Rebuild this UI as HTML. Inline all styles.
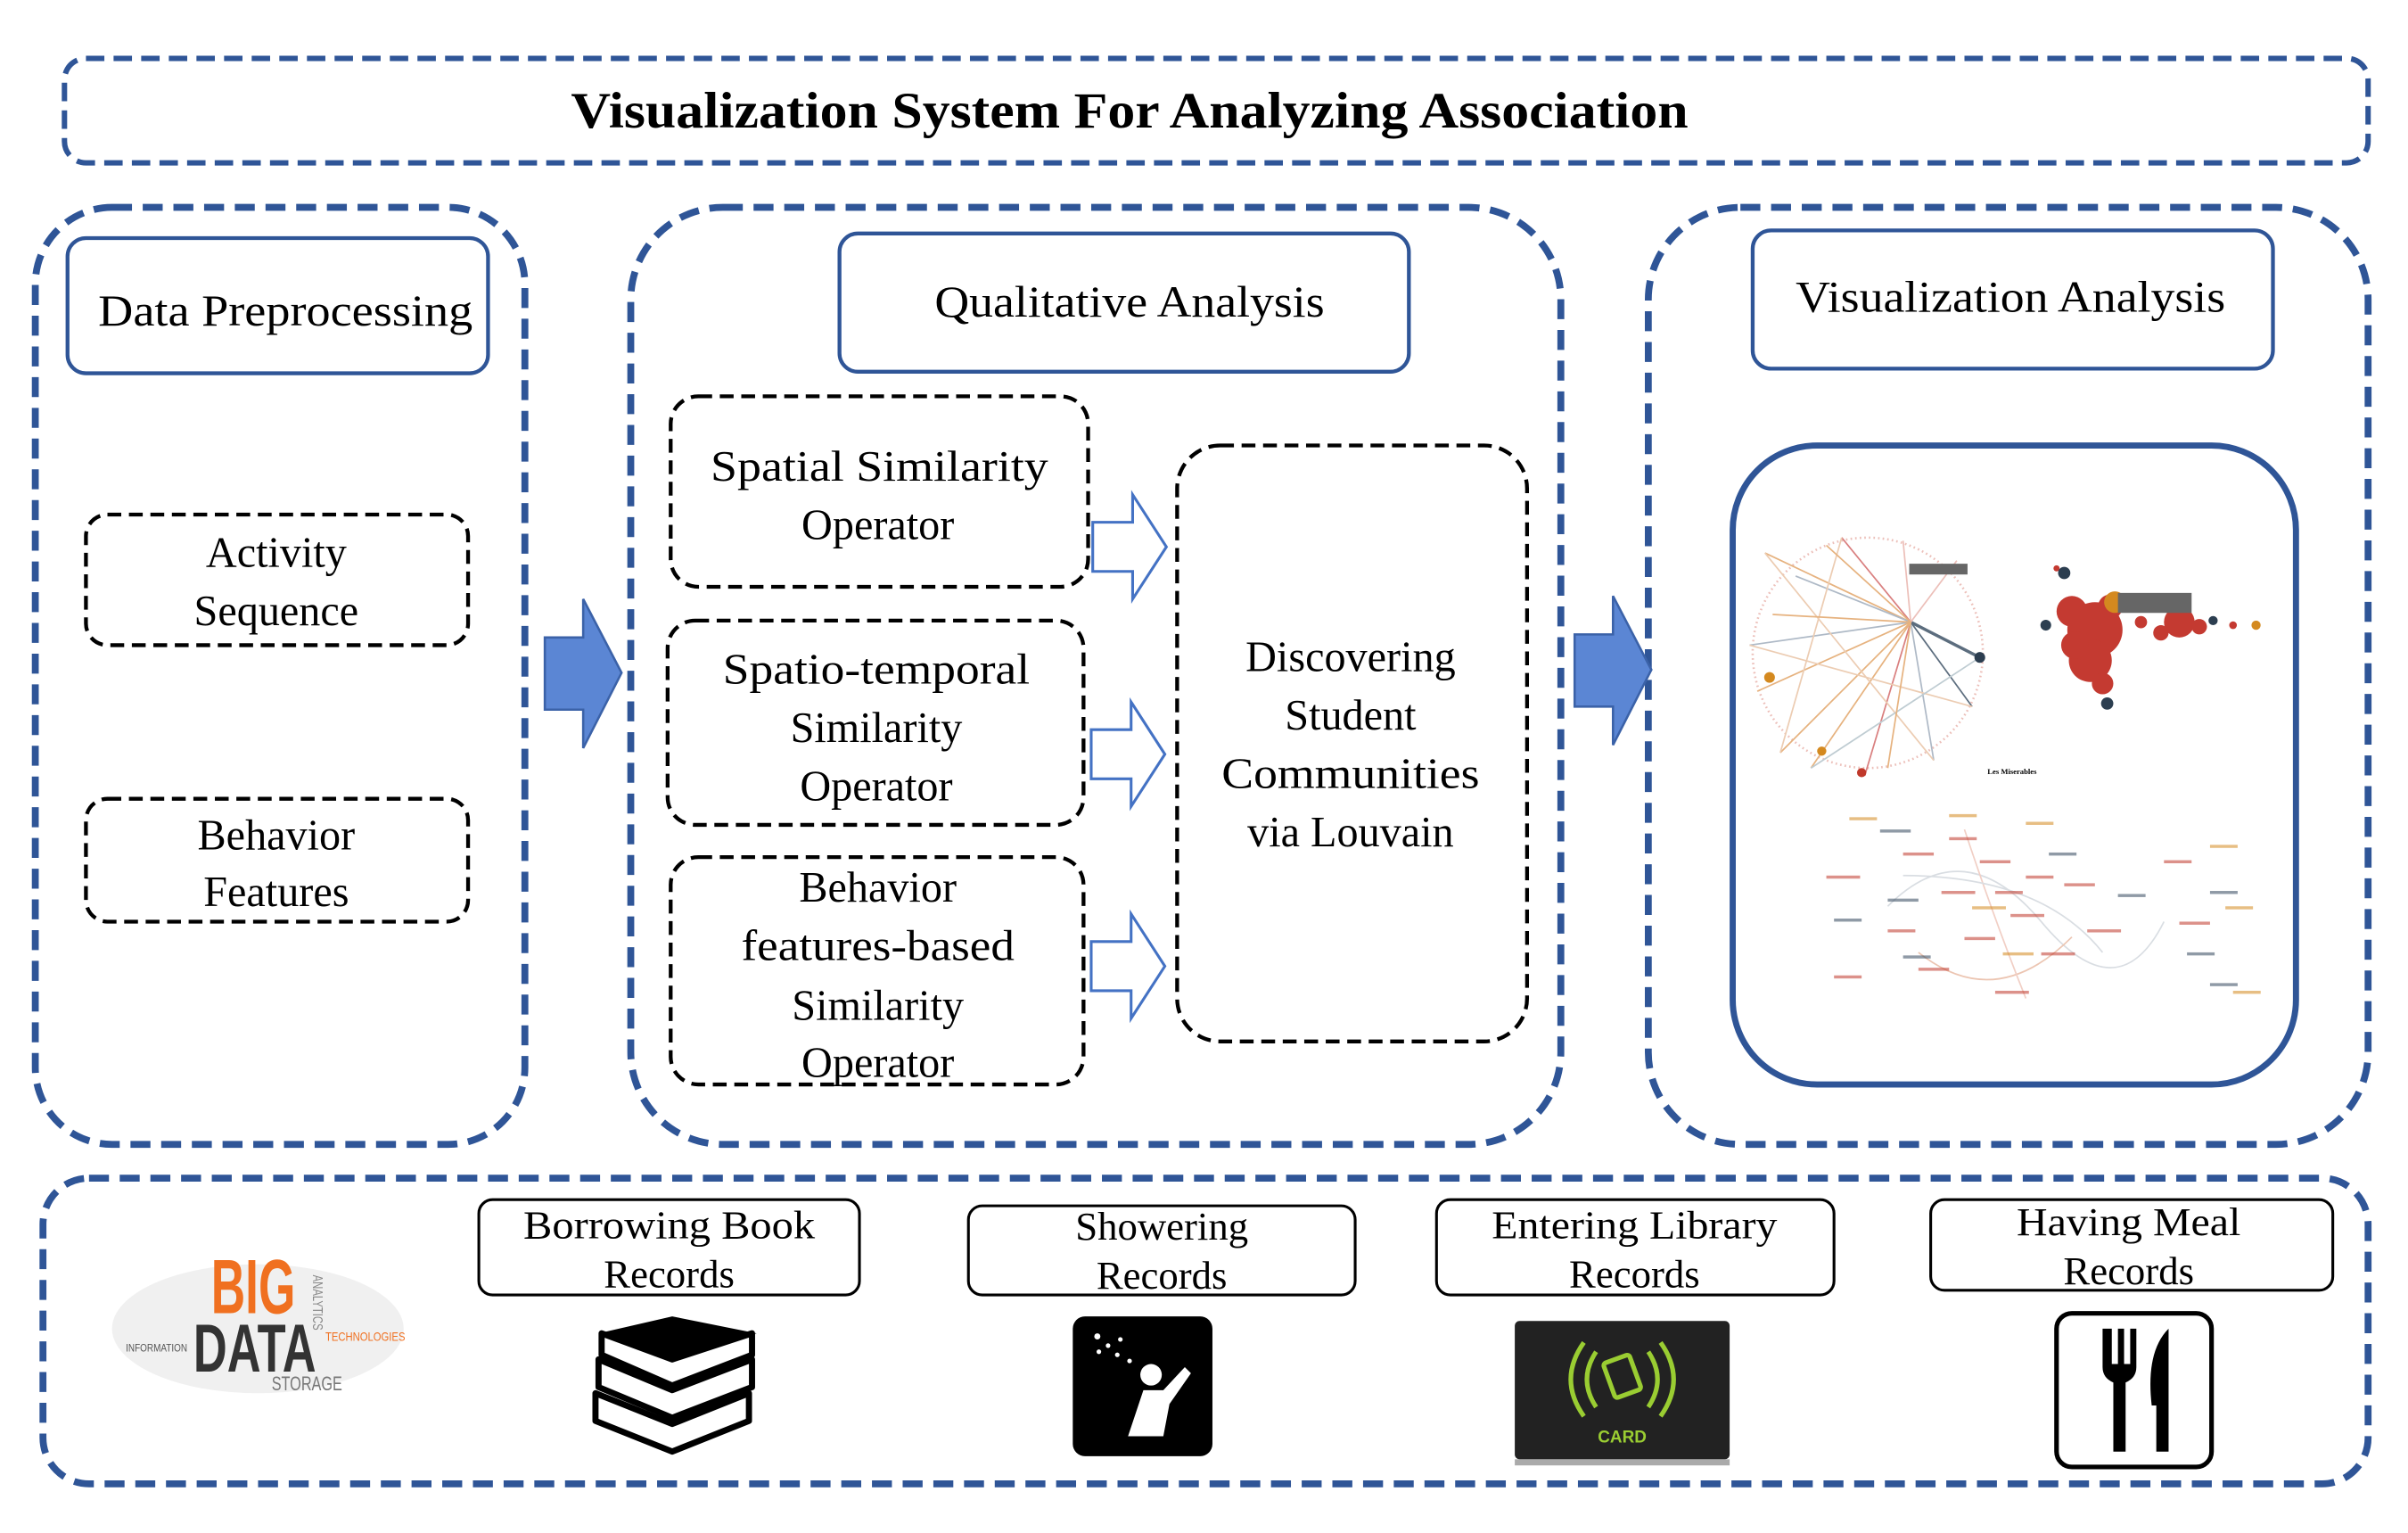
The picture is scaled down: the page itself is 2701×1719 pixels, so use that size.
<!DOCTYPE html>
<html><head><meta charset="utf-8"><style>
html,body{margin:0;padding:0;background:#fff}
svg{display:block}
text{font-family:"Liberation Serif",serif}
</style></head><body>
<svg width="2701" height="1719" viewBox="0 0 1569 998" preserveAspectRatio="none" xmlns="http://www.w3.org/2000/svg">
<rect width="1569" height="998" fill="#fff"/>
<g fill="none" stroke="#2f5597">
<rect x="42" y="38" width="1501" height="68" rx="14" stroke-width="3.5" stroke-dasharray="12,6"/>
<rect x="23" y="135" width="319" height="610" rx="50" stroke-width="4.5" stroke-dasharray="13,7"/>
<rect x="411" y="135" width="606" height="610" rx="60" stroke-width="4.5" stroke-dasharray="13,7"/>
<rect x="1074" y="135" width="469" height="610" rx="60" stroke-width="4.5" stroke-dasharray="13,7"/>
<rect x="28" y="767" width="1515" height="199" rx="30" stroke-width="4.5" stroke-dasharray="13,7"/>
<rect x="44" y="155" width="274" height="88" rx="12" stroke-width="2.5"/>
<rect x="547" y="152" width="371" height="90" rx="12" stroke-width="2.5"/>
<rect x="1142" y="150" width="339" height="90" rx="12" stroke-width="2.5"/>
<rect x="1129" y="290" width="367" height="416" rx="55" stroke-width="4"/>
</g>
<text x="736" y="83" font-size="33" font-weight="bold" text-anchor="middle" textLength="728" lengthAdjust="spacingAndGlyphs">Visualization System For Analyzing Association</text>
<g font-size="29" text-anchor="middle">
<text x="186" y="212" textLength="244" lengthAdjust="spacingAndGlyphs">Data Preprocessing</text>
<text x="736" y="206" textLength="254" lengthAdjust="spacingAndGlyphs">Qualitative Analysis</text>
<text x="1310" y="203" textLength="280" lengthAdjust="spacingAndGlyphs">Visualization Analysis</text>
</g>
<g fill="none" stroke="#000" stroke-width="2.5" stroke-dasharray="9,5">
<rect x="56" y="335" width="249" height="85" rx="14"/>
<rect x="56" y="520" width="249" height="80" rx="14"/>
<rect x="437" y="258" width="272" height="124" rx="18"/>
<rect x="435" y="404" width="271" height="133" rx="18"/>
<rect x="437" y="558" width="269" height="148" rx="18"/>
<rect x="767" y="290" width="228" height="388" rx="28"/>
</g>
<g font-size="28" text-anchor="middle">
<text x="180" y="369">Activity</text><text x="180" y="407">Sequence</text>
<text x="180" y="553">Behavior</text><text x="180" y="590">Features</text>
<text x="573" y="313" textLength="220" lengthAdjust="spacingAndGlyphs">Spatial  Similarity</text><text x="572" y="351">Operator</text>
<text x="571" y="445" textLength="200" lengthAdjust="spacingAndGlyphs">Spatio-temporal</text><text x="571" y="483">Similarity</text><text x="571" y="521">Operator</text>
<text x="572" y="587">Behavior</text><text x="572" y="625" textLength="178" lengthAdjust="spacingAndGlyphs">features-based</text><text x="572" y="664">Similarity</text><text x="572" y="701">Operator</text>
<text x="880" y="437">Discovering</text><text x="880" y="475">Student</text><text x="880" y="513" textLength="168" lengthAdjust="spacingAndGlyphs">Communities</text><text x="880" y="551">via Louvain</text>
</g>
<g fill="#5b86d4" stroke="#3b62a8" stroke-width="1.5">
<polygon points="355,415 380,415 380,390 405,438 380,487 380,462 355,462"/>
<polygon points="1026,413 1051,413 1051,388 1076,436 1051,485 1051,460 1026,460"/>
</g>
<g fill="#fff" stroke="#4472c4" stroke-width="1.8">
<polygon points="712,340 738,340 738,322 760,356 738,390 738,372 712,372"/>
<polygon points="711,475 737,475 737,457 759,491 737,525 737,507 711,507"/>
<polygon points="711,613 737,613 737,595 759,629 737,663 737,645 711,645"/>
</g>
<g stroke-width="1" opacity="0.8">
<circle cx="1217" cy="425" r="75" fill="none" stroke="#e8b0a8" stroke-width="1.5" stroke-dasharray="1,2"/>
<line x1="1245" y1="405" x2="1150" y2="360" stroke="#e0a060"/><line x1="1245" y1="405" x2="1140" y2="420" stroke="#9aa8b8"/>
<line x1="1245" y1="405" x2="1160" y2="490" stroke="#e0a060"/><line x1="1245" y1="405" x2="1200" y2="350" stroke="#d06060"/>
<line x1="1245" y1="405" x2="1290" y2="428" stroke="#34495e" stroke-width="2"/><line x1="1245" y1="405" x2="1260" y2="495" stroke="#9aa8b8"/>
<line x1="1245" y1="405" x2="1215" y2="505" stroke="#d06060"/><line x1="1245" y1="405" x2="1180" y2="500" stroke="#e0a060"/>
<line x1="1245" y1="405" x2="1145" y2="450" stroke="#e0a060"/><line x1="1245" y1="405" x2="1170" y2="375" stroke="#9aa8b8"/>
<line x1="1245" y1="405" x2="1285" y2="460" stroke="#34495e"/><line x1="1245" y1="405" x2="1240" y2="352" stroke="#e8b0a8"/>
<line x1="1150" y1="360" x2="1260" y2="495" stroke="#e8c0a0"/><line x1="1140" y1="420" x2="1285" y2="460" stroke="#e8c0a0"/>
<line x1="1160" y1="490" x2="1200" y2="350" stroke="#e8c0a0"/><line x1="1180" y1="500" x2="1290" y2="428" stroke="#b0c0c8"/>
<line x1="1245" y1="405" x2="1155" y2="400" stroke="#e0a060"/><line x1="1245" y1="405" x2="1230" y2="500" stroke="#e0a060"/>
<line x1="1245" y1="405" x2="1275" y2="365" stroke="#e8b0a8"/><line x1="1245" y1="405" x2="1190" y2="355" stroke="#e0a060"/>
</g>
<circle cx="1290" cy="428" r="3.5" fill="#2c3e50"/><circle cx="1153" cy="441" r="3.5" fill="#d4891f"/>
<circle cx="1187" cy="489" r="3" fill="#d4891f"/><circle cx="1213" cy="503" r="3" fill="#c0392b"/>
<rect x="1244" y="367" width="38" height="7" fill="#666"/>
<text x="1295" y="504" font-size="5" font-weight="bold">Les Miserables</text>
<g fill="#c43a31">
<circle cx="1350" cy="398" r="10"/><circle cx="1365" cy="410" r="18"/><circle cx="1362" cy="430" r="14"/>
<circle cx="1352" cy="420" r="9"/><circle cx="1375" cy="395" r="8"/><circle cx="1370" cy="445" r="7"/>
<circle cx="1420" cy="405" r="10"/><circle cx="1408" cy="412" r="5"/><circle cx="1433" cy="408" r="5"/>
<circle cx="1395" cy="405" r="4"/><circle cx="1455" cy="407" r="2.5"/><circle cx="1340" cy="370" r="2"/>
</g>
<circle cx="1378" cy="392" r="7" fill="#d4891f"/><circle cx="1470" cy="407" r="3" fill="#d4891f"/>
<circle cx="1345" cy="373" r="4" fill="#2c3e50"/><circle cx="1333" cy="407" r="3.5" fill="#2c3e50"/>
<circle cx="1373" cy="458" r="4" fill="#2c3e50"/><circle cx="1442" cy="404" r="3" fill="#2c3e50"/>
<rect x="1380" y="386" width="48" height="13" fill="#666"/>
<g stroke-width="1" fill="none" opacity="0.6">
<path d="M1230,590 Q1280,540 1330,600 T1410,600" stroke="#c0c8d0"/>
<path d="M1250,620 Q1300,660 1350,610" stroke="#e0a080"/>
<path d="M1280,540 Q1300,600 1320,650" stroke="#e8b0a0"/>
<path d="M1240,570 Q1330,570 1370,620" stroke="#c0c8d0"/>
</g>
<g opacity="0.55">
<g fill="#c0392b">
<rect x="1190" y="570" width="22" height="2"/><rect x="1240" y="555" width="20" height="2"/><rect x="1265" y="580" width="22" height="2"/>
<rect x="1290" y="560" width="20" height="2"/><rect x="1310" y="595" width="22" height="2"/><rect x="1280" y="610" width="20" height="2"/>
<rect x="1330" y="620" width="22" height="2"/><rect x="1250" y="630" width="20" height="2"/><rect x="1300" y="645" width="22" height="2"/>
<rect x="1345" y="575" width="20" height="2"/><rect x="1360" y="605" width="22" height="2"/><rect x="1230" y="605" width="18" height="2"/>
<rect x="1420" y="600" width="20" height="2"/><rect x="1410" y="560" width="18" height="2"/><rect x="1195" y="635" width="18" height="2"/>
<rect x="1270" y="545" width="18" height="2"/><rect x="1300" y="580" width="18" height="2"/><rect x="1320" y="570" width="18" height="2"/>
</g>
<g fill="#d4891f">
<rect x="1205" y="532" width="18" height="2"/><rect x="1270" y="530" width="18" height="2"/><rect x="1320" y="535" width="18" height="2"/>
<rect x="1285" y="590" width="22" height="2"/><rect x="1450" y="590" width="18" height="2"/><rect x="1440" y="550" width="18" height="2"/>
<rect x="1305" y="620" width="20" height="2"/><rect x="1455" y="645" width="18" height="2"/>
</g>
<g fill="#34495e">
<rect x="1225" y="540" width="20" height="2"/><rect x="1230" y="585" width="20" height="2"/><rect x="1195" y="598" width="18" height="2"/>
<rect x="1335" y="555" width="18" height="2"/><rect x="1380" y="582" width="18" height="2"/><rect x="1440" y="580" width="18" height="2"/>
<rect x="1425" y="620" width="18" height="2"/><rect x="1440" y="640" width="18" height="2"/><rect x="1240" y="622" width="18" height="2"/>
</g>
</g>
<g fill="none" stroke="#000" stroke-width="1.8">
<rect x="312" y="781" width="248" height="62" rx="9"/>
<rect x="631" y="785" width="252" height="58" rx="9"/>
<rect x="936" y="781" width="259" height="62" rx="9"/>
<rect x="1258" y="781" width="262" height="59" rx="9"/>
</g>
<g font-size="26" text-anchor="middle">
<text x="436" y="806" textLength="190" lengthAdjust="spacingAndGlyphs">Borrowing Book</text><text x="436" y="838">Records</text>
<text x="757" y="807">Showering</text><text x="757" y="839">Records</text>
<text x="1065" y="806" textLength="186" lengthAdjust="spacingAndGlyphs">Entering Library</text><text x="1065" y="838">Records</text>
<text x="1387" y="804" textLength="146" lengthAdjust="spacingAndGlyphs">Having Meal</text><text x="1387" y="836">Records</text>
</g>
<ellipse cx="168" cy="865" rx="95" ry="42" fill="#ececec" opacity="0.8"/>
<text x="165" y="855" font-size="50" font-weight="bold" style="fill:#f07020;font-family:'Liberation Sans',sans-serif" text-anchor="middle" textLength="55" lengthAdjust="spacingAndGlyphs">BIG</text>
<text x="166" y="893" font-size="44" font-weight="bold" style="fill:#333;font-family:'Liberation Sans',sans-serif" text-anchor="middle" textLength="80" lengthAdjust="spacingAndGlyphs">DATA</text>
<text x="177" y="905" font-size="13" style="fill:#777;font-family:'Liberation Sans',sans-serif" textLength="46" lengthAdjust="spacingAndGlyphs">STORAGE</text>
<text x="212" y="873" font-size="8" style="fill:#f07020;font-family:'Liberation Sans',sans-serif" textLength="52" lengthAdjust="spacingAndGlyphs">TECHNOLOGIES</text>
<text x="82" y="880" font-size="7" style="fill:#555;font-family:'Liberation Sans',sans-serif" textLength="40" lengthAdjust="spacingAndGlyphs">INFORMATION</text>
<text x="204" y="830" font-size="9" style="fill:#888;font-family:'Liberation Sans',sans-serif" transform="rotate(90 204 830)" textLength="36" lengthAdjust="spacingAndGlyphs">ANALYTICS</text>
<g fill="#fff" stroke="#000" stroke-width="4" stroke-linejoin="round">
<path d="M388,925 L438,945 L488,925 L488,907 L438,927 L388,907 Z"/>
<path d="M390,903 L438,923 L490,903 L490,885 L438,905 L390,885 Z"/>
<path d="M392,882 L438,902 L490,882 L490,868 L438,885 L392,868 Z"/>
</g>
<polygon points="390,868 438,857 493,868 438,885" fill="#000"/>
<rect x="699" y="857" width="91" height="91" rx="8" fill="#000"/>
<circle cx="750" cy="895" r="7" fill="#fff"/>
<path d="M735,935 L745,905 L758,905 L772,890 L776,894 L762,914 L758,935 Z" fill="#fff"/>
<g fill="#fff"><circle cx="715" cy="870" r="2"/><circle cx="722" cy="876" r="1.5"/><circle cx="728" cy="882" r="1.5"/><circle cx="716" cy="880" r="1.5"/><circle cx="730" cy="872" r="1.5"/><circle cx="736" cy="886" r="1.5"/></g>
<rect x="987" y="860" width="140" height="90" rx="3" fill="#222"/>
<rect x="987" y="950" width="140" height="4" fill="#aaa"/>
<g fill="none" stroke="#9acd32" stroke-width="3">
<path d="M1040,880 Q1028,898 1040,916"/><path d="M1032,874 Q1015,898 1032,922"/>
<path d="M1074,880 Q1086,898 1074,916"/><path d="M1082,874 Q1099,898 1082,922"/>
<rect x="1048" y="884" width="18" height="24" rx="2" transform="rotate(-20 1057 896)"/>
</g>
<text x="1057" y="939" font-size="11" font-weight="bold" style="fill:#9acd32;font-family:'Liberation Sans',sans-serif" text-anchor="middle">CARD</text>
<rect x="1340" y="855" width="101" height="100" rx="10" fill="#fff" stroke="#000" stroke-width="3"/>
<path d="M1370,865 L1370,890 Q1370,897 1377,900 L1377,945 L1385,945 L1385,900 Q1392,897 1392,890 L1392,865 L1388,865 L1388,888 L1384,888 L1384,865 L1380,865 L1380,888 L1376,888 L1376,865 Z" fill="#000"/>
<path d="M1405,945 L1413,945 L1413,865 Q1398,880 1402,915 L1405,915 Z" fill="#000"/>
</svg>
</body></html>
